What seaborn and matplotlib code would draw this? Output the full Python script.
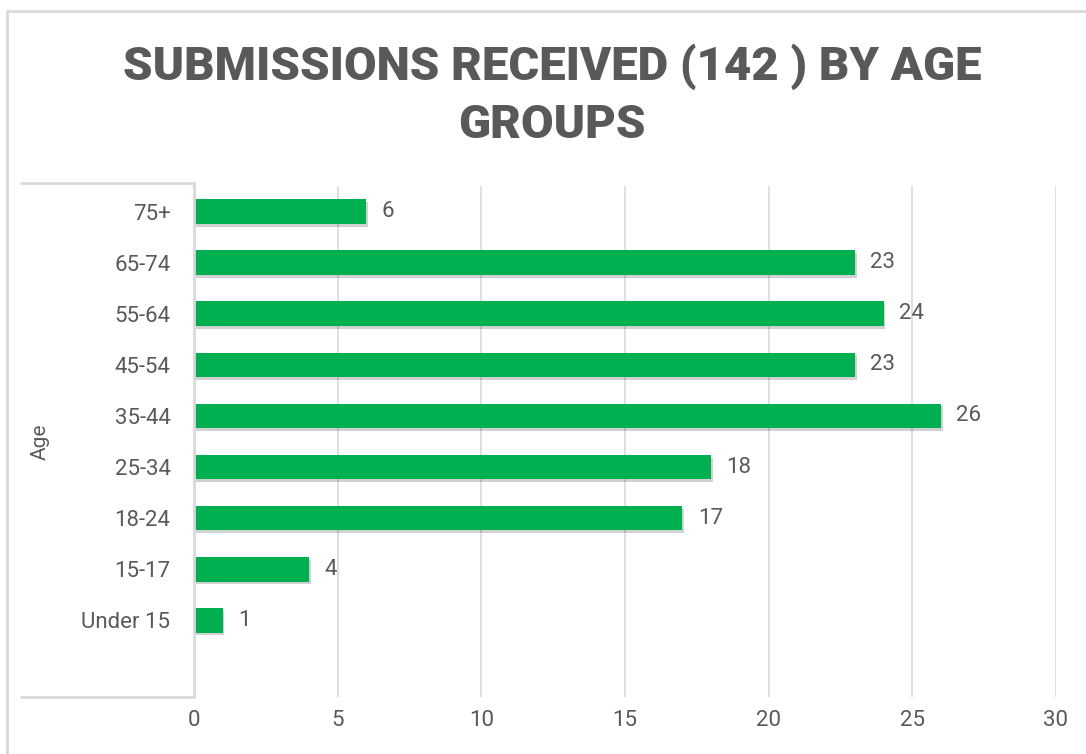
import matplotlib
matplotlib.use("Agg")
import matplotlib.pyplot as plt
import matplotlib.patheffects as pe
from matplotlib.patches import Rectangle
from matplotlib.lines import Line2D
import seaborn as sns
import pandas as pd

# data
age_groups = ["75+", "65-74", "55-64", "45-54", "35-44", "25-34", "18-24", "15-17", "Under 15"]
submissions = [6, 23, 24, 23, 26, 18, 17, 4, 1]
x_ticks = [0, 5, 10, 15, 20, 25, 30]

df = pd.DataFrame({"Age": age_groups, "Count": submissions})

sns.set_style("white")
plt.rcParams["font.family"] = ["Roboto", "DejaVu Sans"]

W, H = 1086, 754
fig = plt.figure(figsize=(W / 100, H / 100), dpi=100)
# axes placed in pixel terms: left 194, right 1056, top 186, bottom 697
ax = fig.add_axes([194 / W, 1 - 697 / H, (1056 - 194) / W, (697 - 186) / H])

green = "#00b050"
grey_txt = "#595959"
grid_c = "#d9d9d9"

sns.barplot(data=df, y="Age", x="Count", order=age_groups, color=green,
            width=0.48, saturation=1, linewidth=0, ax=ax)
for p in ax.patches:
    p.set_edgecolor("none")
    p.set_path_effects([pe.SimplePatchShadow(offset=(1.2, -2), shadow_rgbFace="#000000", alpha=0.18),
                        pe.Normal()])

for p, v in zip(ax.patches, submissions):
    ax.annotate(str(v), (p.get_width(), p.get_y() + p.get_height() / 2),
                xytext=(11, 0), textcoords="offset points", va="center", ha="left",
                fontsize=16, color=grey_txt)

ax.set_xlim(0, 30)
ax.set_ylim(9.5, -0.5)
ax.set_xticks(x_ticks)
ax.grid(axis="x", color=grid_c, linewidth=1.2)
ax.set_axisbelow(True)
for s in ax.spines.values():
    s.set_visible(False)
ax.tick_params(axis="both", length=0, labelsize=16, colors=grey_txt)
ax.tick_params(axis="x", pad=9)
ax.tick_params(axis="y", pad=17)
ax.set_xlabel("")
ax.set_ylabel("Age", fontsize=15, color=grey_txt, labelpad=0)
ax.yaxis.set_label_coords((50 - 194) / (1056 - 194), 0.5)

# category box on the left (top, right and bottom rules)
x0 = (21 - 194) / (1056 - 194)
for xs, ys in [([x0, 0], [1.005, 1.005]), ([0, 0], [1.005, 0]), ([x0, 0], [0, 0])]:
    ax.add_line(Line2D(xs, ys, transform=ax.transAxes, color=grid_c, lw=2, clip_on=False))

# outer chart border
fig.patches.append(Rectangle((7 / W, -0.1), 1.2, 1.1 - 11 / H, transform=fig.transFigure,
                             fill=False, edgecolor=grid_c, lw=2))

fig.text(552 / W, 1 - 95 / H, "SUBMISSIONS RECEIVED (142 ) BY AGE\nGROUPS", ha="center", va="center",
         fontsize=34, fontweight="black", color=grey_txt, linespacing=1.38)

fig.savefig("out.png", dpi=100)
